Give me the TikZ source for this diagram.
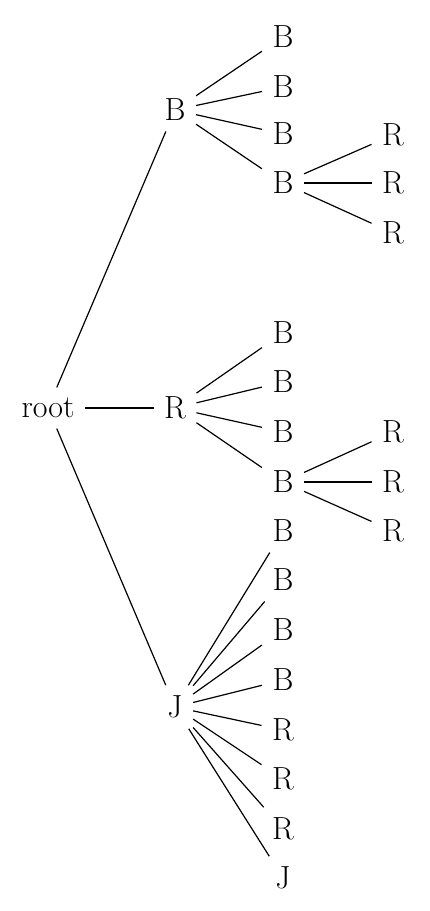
\documentclass[tikz,border=0pt]{standalone}
\begin{document}
\begin{tikzpicture}[x=0.5pt,y=-0.5pt,
  tn/.style={inner sep=5pt, font=\fontsize{16}{18}\selectfont},
  every path/.style={line width=0.6pt}]
\useasboundingbox (0,0) rectangle (429,911);
\node[tn] (root) at (48,408) {root};
\node[tn] (b) at (175,110) {B};
\node[tn] (r) at (175,408) {R};
\node[tn] (j) at (175,707) {J};
% B children
\node[tn] (b1) at (283,37) {B};
\node[tn] (b2) at (283,87) {B};
\node[tn] (b3) at (283,134) {B};
\node[tn] (b4) at (283,183) {B};
\node[tn] (b4a) at (393,135) {R};
\node[tn] (b4b) at (393,183) {R};
\node[tn] (b4c) at (393,233) {R};
% R children
\node[tn] (r1) at (283,333) {B};
\node[tn] (r2) at (283,382) {B};
\node[tn] (r3) at (283,432) {B};
\node[tn] (r4) at (283,482) {B};
\node[tn] (r4a) at (393,432) {R};
\node[tn] (r4b) at (393,482) {R};
\node[tn] (r4c) at (393,531) {R};
% J children
\node[tn] (j1) at (283,531) {B};
\node[tn] (j2) at (283,580) {B};
\node[tn] (j3) at (283,630) {B};
\node[tn] (j4) at (283,680) {B};
\node[tn] (j5) at (283,730) {R};
\node[tn] (j6) at (283,779) {R};
\node[tn] (j7) at (283,829) {R};
\node[tn] (j8) at (283,878) {J};
\draw (root) -- (b);
\draw (root) -- (r);
\draw (root) -- (j);
\foreach \c in {b1,b2,b3,b4} \draw (b) -- (\c);
\foreach \c in {b4a,b4b,b4c} \draw (b4) -- (\c);
\foreach \c in {r1,r2,r3,r4} \draw (r) -- (\c);
\foreach \c in {r4a,r4b,r4c} \draw (r4) -- (\c);
\foreach \c in {j1,j2,j3,j4,j5,j6,j7,j8} \draw (j) -- (\c);
\end{tikzpicture}
\end{document}
